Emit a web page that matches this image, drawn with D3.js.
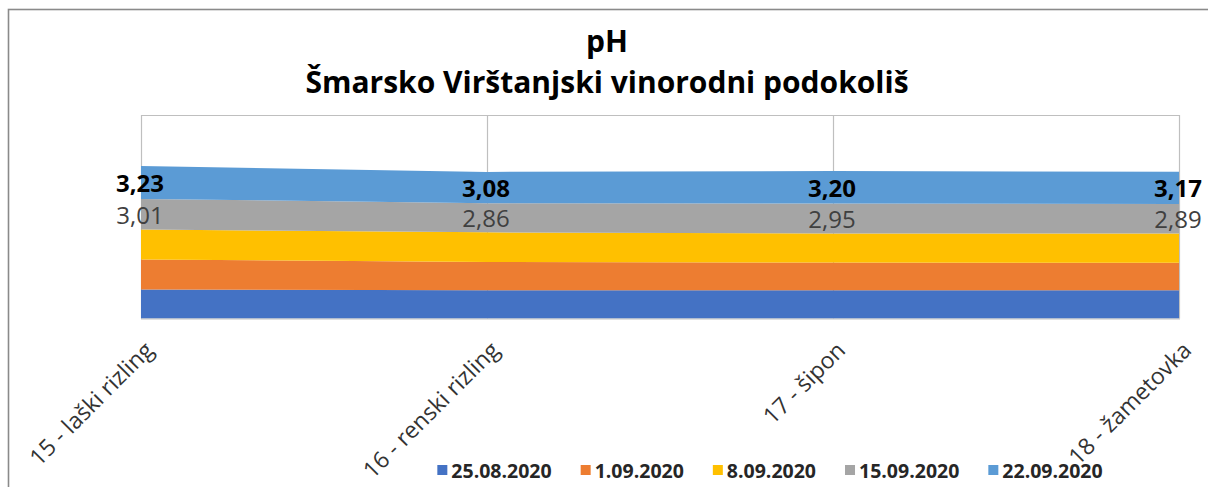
<!DOCTYPE html>
<html>
<head>
<meta charset="utf-8">
<script src="https://cdn.jsdelivr.net/npm/d3@7"></script>
<style>
  html, body { margin: 0; padding: 0; background: #fff; }
  svg { display: block; font-family: "Open Sans", "Noto Sans", sans-serif; }
</style>
</head>
<body>
<svg id="chart" width="1208" height="487"></svg>
<script>
const categories = ["15 - laški rizling", "16 - renski rizling", "17 - šipon", "18 - žametovka"];
const seriesNames = ["25.08.2020", "1.09.2020", "8.09.2020", "15.09.2020", "22.09.2020"];
const s25_08 = [2.85, 2.78, 2.78, 2.78];
const s01_09 = [2.94, 2.78, 2.72, 2.69];
const s08_09 = [2.95, 2.91, 2.85, 2.89];
const s15_09 = [3.01, 2.86, 2.95, 2.89];
const s22_09 = [3.23, 3.08, 3.20, 3.17];
const seriesValues = [s25_08, s01_09, s08_09, s15_09, s22_09];
const colors = ["#4472C4", "#ED7D31", "#FFC000", "#A5A5A5", "#5B9BD5"];
const labeledSeries = [3, 4];
const titleLines = ["pH", "Šmarsko Virštanjski vinorodni podokoliš"];
const yMax = 20;

const rows = categories.map((c, i) => {
  const r = { cat: c };
  seriesNames.forEach((s, j) => r[s] = seriesValues[j][i]);
  return r;
});

const svg = d3.select("#chart");

// outer chart border
svg.append("rect").attr("x", 8.5).attr("y", 9.5).attr("width", 1400).attr("height", 700)
  .attr("fill", "none").attr("stroke", "#8a8a8a").attr("stroke-width", 1.6);

const plot = { left: 141, right: 1179, top: 115, bottom: 318.5 };
const x = d3.scalePoint().domain(categories).range([plot.left, plot.right]);
const y = d3.scaleLinear().domain([0, yMax]).range([plot.bottom, plot.top]);

// gridlines (vertical at categories) and top border
svg.append("g").selectAll("line").data(categories).join("line")
  .attr("x1", d => Math.round(x(d)) + 0.5).attr("x2", d => Math.round(x(d)) + 0.5)
  .attr("y1", plot.top).attr("y2", plot.bottom)
  .attr("stroke", "#bfbfbf").attr("stroke-width", 1.2);
svg.append("line").attr("x1", plot.left).attr("x2", plot.right + 1)
  .attr("y1", plot.top + 0.5).attr("y2", plot.top + 0.5)
  .attr("stroke", "#bfbfbf").attr("stroke-width", 1.2);

const stack = d3.stack().keys(seriesNames);
const stacked = stack(rows);

const area = d3.area()
  .x(d => x(d.data.cat))
  .y0(d => y(d[0]))
  .y1(d => y(d[1]));

svg.append("g").selectAll("path").data(stacked).join("path")
  .attr("d", area)
  .attr("fill", (d, i) => colors[i]);

// bottom axis line
svg.append("line").attr("x1", plot.left).attr("x2", plot.right + 1)
  .attr("y1", plot.bottom + 0.5).attr("y2", plot.bottom + 0.5)
  .attr("stroke", "#bfbfbf").attr("stroke-width", 1.2);

// data labels
labeledSeries.forEach(si => {
  const layer = stacked[si];
  svg.append("g").selectAll("text").data(layer).join("text")
    .attr("x", d => x(d.data.cat) - 1)
    .attr("y", d => (y(d[0]) + y(d[1])) / 2)
    .attr("text-anchor", "middle")
    .attr("dominant-baseline", "central")
    .attr("font-size", 24)
    .attr("font-weight", si === 4 ? 700 : 400)
    .attr("fill", si === 4 ? "#000" : "#404040")
    .text(d => d3.format(".2f")(d.data[seriesNames[si]]).replace(".", ","));
});

// category labels
svg.append("g").selectAll("text").data(categories).join("text")
  .attr("transform", d => `translate(${x(d) + 2},${340}) rotate(-45)`)
  .attr("text-anchor", "end")
  .attr("dy", "0.72em")
  .attr("font-size", 23)
  .attr("fill", "#333")
  .text(d => d);

// title
svg.append("g").selectAll("text").data(titleLines).join("text")
  .attr("x", 607)
  .attr("y", (d, i) => 52 + i * 41)
  .attr("text-anchor", "middle")
  .attr("font-size", 30)
  .attr("font-weight", 700)
  .attr("fill", "#000")
  .text(d => d);

// legend
const legend = svg.append("g");
const items = legend.selectAll("g").data(seriesNames).join("g");
items.append("rect").attr("width", 10).attr("height", 10).attr("y", -5)
  .attr("fill", (d, i) => colors[i]);
items.append("text").attr("x", 14).attr("dominant-baseline", "central")
  .attr("font-size", 19.5).attr("font-weight", 700).attr("fill", "#262626")
  .text(d => d);
const widths = [];
items.each(function () { widths.push(this.querySelector("text").getComputedTextLength()); });
const gap = 29;
const total = widths.reduce((a, w) => a + 14 + w, 0) + gap * (widths.length - 1);
let start = 770 - total / 2;
items.attr("transform", (d, i) => {
  const t = `translate(${start},470)`;
  start += 14 + widths[i] + gap;
  return t;
});
</script>
</body>
</html>
